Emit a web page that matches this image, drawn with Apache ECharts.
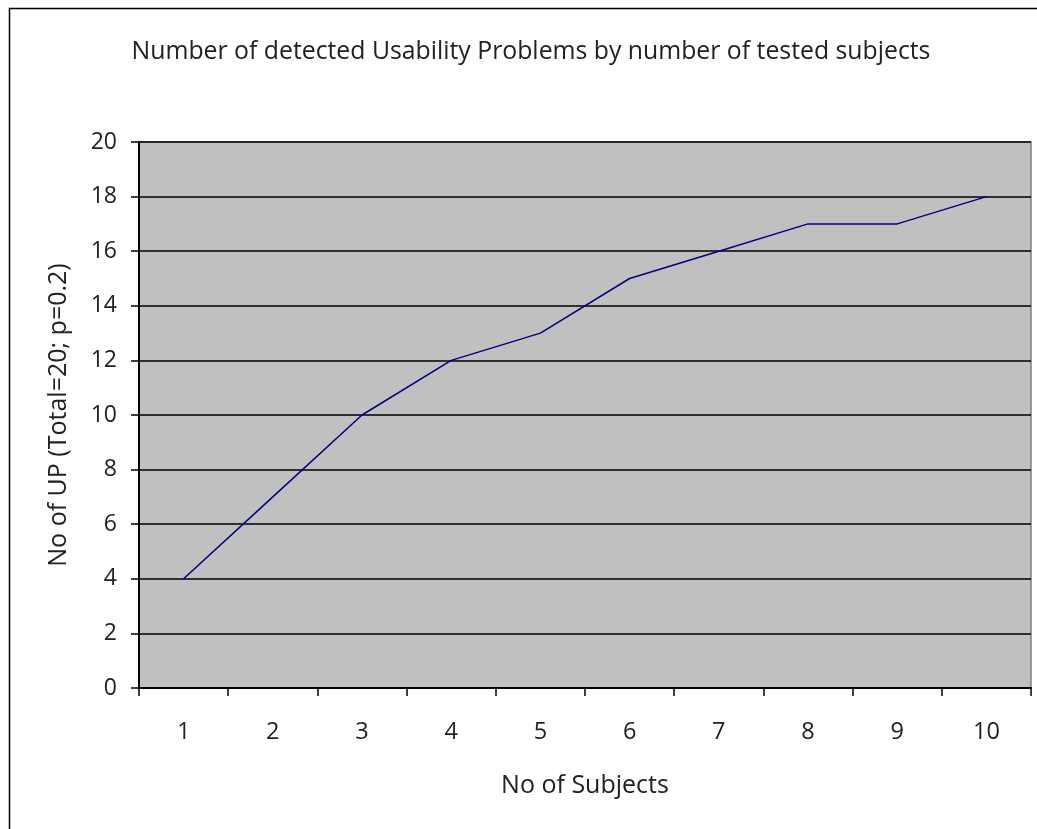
<!DOCTYPE html>
<html>
<head>
<meta charset="utf-8">
<script src="https://cdn.jsdelivr.net/npm/echarts@6/dist/echarts.min.js"></script>
<style>
html,body{margin:0;padding:0;background:#fff;}
#c{width:1037px;height:829px;}
</style>
</head>
<body>
<div id="c"></div>
<script>
var titleText = 'Number of detected Usability Problems by number of tested subjects';
var xAxisName = 'No of Subjects';
var yAxisName = 'No of UP (Total=20; p=0.2)';
var categories = ['1','2','3','4','5','6','7','8','9','10'];
var upValues = [4, 7, 10, 12, 13, 15, 16, 17, 17, 18];
var yMin = 0, yMax = 20, yStep = 2;

var chart = echarts.init(document.getElementById('c'), null, {renderer:'canvas'});
var font = '"Open Sans", "DejaVu Sans", sans-serif';
chart.setOption({
  animation: false,
  backgroundColor: '#ffffff',
  graphic: [{
    type: 'rect',
    shape: {x: 9.5, y: 8.5, width: 1100, height: 900},
    style: {fill: 'none', stroke: '#000', lineWidth: 1.5},
    silent: true, z: 100
  }],
  title: {
    text: titleText,
    left: 526, top: 34, textAlign: 'center',
    textStyle: {fontFamily: font, fontWeight: 'normal', fontSize: 24.8, color: '#222'}
  },
  grid: {left: 139, top: 142, right: 6, bottom: 141, show: true,
         backgroundColor: '#c0c0c0', borderColor: '#808080', borderWidth: 1.5},
  xAxis: {
    type: 'category', data: categories, boundaryGap: true,
    name: xAxisName, nameLocation: 'middle', nameGap: 85,
    nameTextStyle: {fontFamily: font, fontSize: 25, color: '#222'},
    axisLine: {lineStyle: {color: '#000', width: 2}},
    axisTick: {show: true, length: 8, inside: false, lineStyle: {color: '#000', width: 1.5}},
    axisLabel: {fontFamily: font, fontSize: 23.5, color: '#222', margin: 32}
  },
  yAxis: {
    type: 'value', min: yMin, max: yMax, interval: yStep,
    name: yAxisName, nameLocation: 'middle', nameGap: 68, nameRotate: 90,
    nameTextStyle: {fontFamily: font, fontSize: 25, color: '#222'},
    axisLine: {show: true, lineStyle: {color: '#000', width: 2}},
    axisTick: {show: true, length: 8, lineStyle: {color: '#000', width: 1.5}},
    axisLabel: {fontFamily: font, fontSize: 23, color: '#222', margin: 22},
    splitLine: {show: true, lineStyle: {color: '#000', width: 1.5}}
  },
  series: [{
    type: 'line', data: upValues, symbol: 'none',
    lineStyle: {color: '#000080', width: 1.5}
  }]
});
</script>
</body>
</html>
